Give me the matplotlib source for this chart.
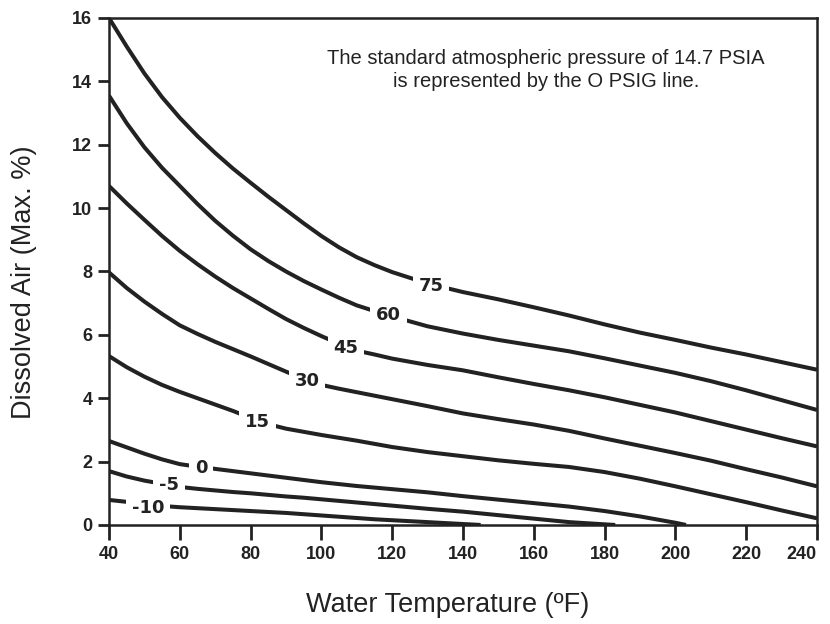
import matplotlib
matplotlib.use("Agg")
import matplotlib.pyplot as plt

# water temperature (F) grid the curves were read at
temps = [40, 45, 50, 55, 60, 65, 70, 75, 80, 85, 90, 95, 100, 105, 110, 115, 120,
         130, 140, 150, 160, 170, 180, 190, 200, 210, 220, 230, 240]

# dissolved air (max %) for each gauge pressure (PSIG)
air_75 = [16.0, 15.1, 14.25, 13.5, 12.85, 12.27, 11.74, 11.25, 10.8, 10.36, 9.94, 9.52,
          9.12, 8.76, 8.45, 8.2, 7.98, 7.62, 7.35, 7.12, 6.87, 6.61, 6.33, 6.07, 5.84,
          5.6, 5.38, 5.14, 4.9]
air_60 = [13.55, 12.68, 11.92, 11.27, 10.7, 10.13, 9.6, 9.13, 8.7, 8.33, 8.0, 7.7,
          7.43, 7.17, 6.93, 6.75, 6.58, 6.27, 6.04, 5.84, 5.66, 5.48, 5.26, 5.03, 4.8,
          4.54, 4.25, 3.94, 3.63]
air_45 = [10.7, 10.15, 9.63, 9.12, 8.65, 8.23, 7.84, 7.48, 7.15, 6.82, 6.5, 6.22,
          5.96, 5.72, 5.5, 5.38, 5.25, 5.05, 4.88, 4.66, 4.45, 4.25, 4.03, 3.79, 3.55,
          3.28, 3.01, 2.74, 2.48]
air_30 = [7.97, 7.48, 7.05, 6.66, 6.3, 6.03, 5.78, 5.55, 5.32, 5.08, 4.84, 4.6,
          4.42, 4.3, 4.19, 4.08, 3.97, 3.75, 3.52, 3.34, 3.17, 2.97, 2.73, 2.5, 2.27,
          2.03, 1.76, 1.5, 1.22]
air_15 = [5.33, 4.98, 4.68, 4.42, 4.2, 4.0, 3.8, 3.6, 3.38, 3.18, 3.04, 2.94,
          2.84, 2.75, 2.66, 2.56, 2.46, 2.3, 2.17, 2.04, 1.93, 1.83, 1.67, 1.46, 1.22,
          0.97, 0.72, 0.46, 0.21]

temps_0 = [40, 45, 50, 55, 60, 65, 70, 75, 80, 85, 90, 95, 100, 105, 110, 115, 120,
           130, 140, 150, 160, 170, 180, 190, 200, 203]
air_0 = [2.65, 2.45, 2.25, 2.07, 1.92, 1.84, 1.77, 1.7, 1.63, 1.56, 1.49, 1.42,
         1.35, 1.29, 1.23, 1.18, 1.13, 1.03, 0.91, 0.8, 0.69, 0.58, 0.44, 0.27, 0.07, 0.0]
temps_m5 = [40, 45, 50, 55, 60, 65, 70, 75, 80, 85, 90, 95, 100, 105, 110, 115, 120,
            130, 140, 150, 160, 170, 180, 183]
air_m5 = [1.7, 1.53, 1.4, 1.3, 1.2, 1.14, 1.09, 1.04, 1.0, 0.95, 0.9, 0.86,
          0.81, 0.76, 0.71, 0.66, 0.61, 0.51, 0.42, 0.31, 0.2, 0.09, 0.02, 0.0]
temps_m10 = [40, 45, 50, 55, 60, 65, 70, 75, 80, 85, 90, 95, 100, 105, 110, 115, 120,
             130, 140, 145]
air_m10 = [0.79, 0.73, 0.66, 0.6, 0.56, 0.53, 0.5, 0.47, 0.44, 0.41, 0.38, 0.34,
           0.3, 0.26, 0.22, 0.18, 0.15, 0.09, 0.03, 0.0]

curves = [("75", temps, air_75, (131, 7.55)),
          ("60", temps, air_60, (119, 6.63)),
          ("45", temps, air_45, (107, 5.58)),
          ("30", temps, air_30, (96, 4.55)),
          ("15", temps, air_15, (82, 3.25)),
          ("0", temps_0, air_0, (66, 1.8)),
          ("-5", temps_m5, air_m5, (57, 1.25)),
          ("-10", temps_m10, air_m10, (51, 0.53))]

x_ticks = list(range(40, 241, 20))
y_ticks = list(range(0, 17, 2))

fig = plt.figure(figsize=(8.3, 6.24), dpi=100)
ax = fig.add_axes([0.1313, 0.1587, 0.8530, 0.8125])

line_col = "#222222"
for name, xs, ys, (lx, ly) in curves:
    ax.plot(xs, ys, color=line_col, lw=2.9, solid_capstyle="butt",
            solid_joinstyle="round", zorder=2)
    ax.text(lx, ly, name, ha="center", va="center", fontsize=13, fontweight="bold",
            color=line_col, zorder=3,
            bbox=dict(boxstyle="square,pad=0.32", fc="white", ec="none"))

ax.set_xlim(40, 240)
ax.set_ylim(0, 16)
ax.set_xticks(x_ticks)
ax.set_yticks(y_ticks)

tick_font = ["Liberation Sans Narrow", "Liberation Sans"]
for lab in ax.get_xticklabels() + ax.get_yticklabels():
    lab.set_family(tick_font)
    lab.set_fontweight("bold")
    lab.set_fontsize(13)
# last x label would run off the figure edge
ax.get_xticklabels()[-1].set_ha("right")
ax.tick_params(axis="both", direction="out", width=2, color=line_col,
               labelcolor=line_col)
ax.tick_params(axis="x", length=11, pad=4)
ax.tick_params(axis="y", length=8, pad=4)
for s in ax.spines.values():
    s.set_linewidth(1.8)
    s.set_color(line_col)

ax.set_xlabel("Water Temperature (ºF)", family="Liberation Sans", fontsize=19.5,
              color=line_col, va="center")
ax.set_ylabel("Dissolved Air (Max. %)", family="Liberation Sans", fontsize=19.5,
              color=line_col, va="center")
ax.xaxis.set_label_coords(0.479, -0.158)
ax.yaxis.set_label_coords(-0.12, 0.479)

ax.text(0.617, 0.897, "The standard atmospheric pressure of 14.7 PSIA\nis represented by the O PSIG line.",
        transform=ax.transAxes, ha="center", va="center", family="Liberation Sans",
        fontsize=14.5, color=line_col, linespacing=1.3)

fig.savefig("out.png", dpi=100)
